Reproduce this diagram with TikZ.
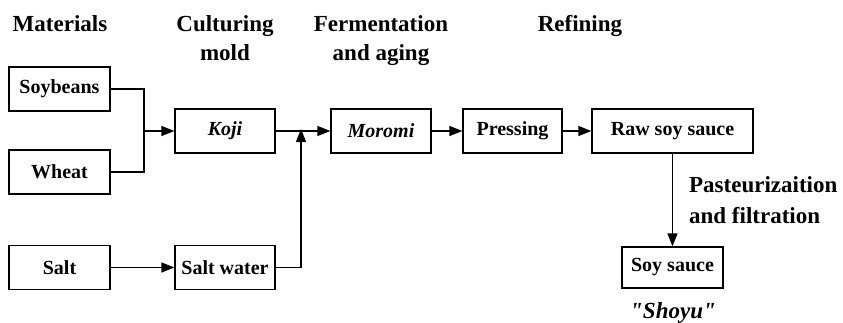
\documentclass[tikz,border=0pt]{standalone}
\usepackage{fontspec}
\setmainfont{Liberation Serif}
% same face, without the TeX quote mapping
\newfontfamily\plainserif{Liberation Serif}
\usetikzlibrary{arrows.meta}
\begin{document}
\begin{tikzpicture}[x=1pt, y=-1pt, >={Triangle[length=13pt,width=10pt]},
        line width=1.3pt,
        box/.style={draw, minimum height=44pt, inner sep=0pt, font=\fontsize{20}{24}\selectfont\bfseries},
        stage/.style={anchor=north, align=center, inner sep=0pt, font=\fontsize{23}{29}\selectfont\bfseries}]
    \useasboundingbox (0,0) rectangle (843,322);
    % stage headings
    \node[stage] (hmat) at (60,15) {Materials};
    \node[stage] (hcul) at (225,15) {Culturing\\mold};
    \node[stage] (hfer) at (381,15) {Fermentation\\and aging};
    \node[stage] (href) at (580,15) {Refining};
    % raw materials
    \node[box, minimum width=101pt] (soy) at (59.5,89) {Soybeans};
    \node[box, minimum width=101pt] (wheat) at (59.5,172) {Wheat};
    \node[box, minimum width=101pt] (salt) at (59.5,267.5) {Salt};
    % process
    \node[box, minimum width=100pt] (koji) at (225,131) {\itshape Koji};
    \node[box, minimum width=100pt] (brine) at (225,267.5) {Salt water};
    \node[box, minimum width=100pt] (moromi) at (381,131) {\itshape Moromi};
    \node[box, minimum width=99pt] (press) at (512.5,131) {Pressing};
    \node[box, minimum width=161pt] (raw) at (672.5,131) {Raw soy sauce};
    \node[box, minimum width=101pt, minimum height=41pt] (shoyu) at (672.5,267.5) {Soy sauce};
    \node[anchor=base, inner sep=0pt, font=\plainserif\fontsize{23}{29}\selectfont\bfseries\itshape] (name) at (673,318) {"Shoyu"};
    % junctions
    \coordinate (j1) at (144,131);
    \coordinate (j2) at (301,131);
    % connectors
    \draw (soy.east) -| (j1);
    \draw (wheat.east) -| (j1);
    \draw[->] (j1) -- (koji.west);
    \draw[->] (salt.east) -- (brine.west);
    \draw[->] (koji.east) -- (moromi.west);
    \draw[->] (brine.east) -| ([yshift=2pt]j2);
    \draw[->] (moromi.east) -- (press.west);
    \draw[->] (press.east) -- (raw.west);
    \draw[->] (raw.south) -- node[right=16pt, align=left, inner sep=0pt, font=\fontsize{23}{31}\selectfont\bfseries] {Pasteurizaition\\and filtration} (shoyu.north);
\end{tikzpicture}
\end{document}
